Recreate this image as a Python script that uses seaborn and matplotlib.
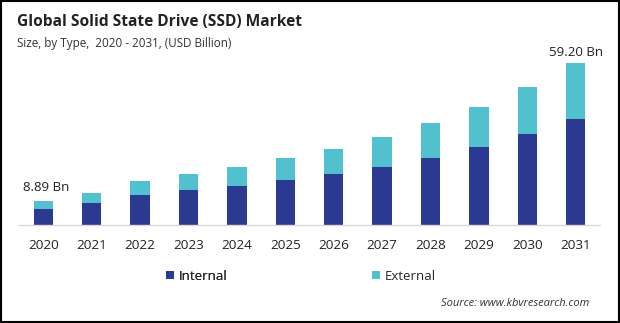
import matplotlib
matplotlib.use("Agg")
import matplotlib.pyplot as plt
import seaborn as sns
import pandas as pd
from matplotlib.patches import Patch, Rectangle

years = ["2020", "2021", "2022", "2023", "2024", "2025", "2026", "2027", "2028", "2029", "2030", "2031"]
internal = [5.90, 8.04, 10.96, 12.79, 14.25, 16.44, 18.64, 21.19, 24.48, 28.50, 33.25, 38.73]
external = [2.99, 3.65, 5.12, 5.85, 6.94, 8.04, 9.14, 10.96, 12.79, 14.62, 17.17, 20.47]
first_label = "8.89 Bn"
last_label = "59.20 Bn"

C_INT = "#2b3990"
C_EXT = "#52c1cf"

sns.set_theme(style="white")
plt.rcParams["font.family"] = ["Open Sans", "DejaVu Sans"]

df = pd.DataFrame({"year": years, "internal": internal, "external": external})
df["total"] = df["internal"] + df["external"]

fig = plt.figure(figsize=(6.2, 3.23), dpi=100)
ax = fig.add_axes([19 / 620, (323 - 225) / 323, 581 / 620, 185 / 323])

sns.barplot(data=df, x="year", y="total", color=C_EXT, width=0.4, ax=ax, saturation=1, linewidth=0)
sns.barplot(data=df, x="year", y="internal", color=C_INT, width=0.4, ax=ax, saturation=1, linewidth=0)

ax.set_xlim(-0.5, 11.5)
ax.set_ylim(0, 67.6)
ax.set_xlabel("")
ax.set_ylabel("")
ax.set_yticks([])
for s in ["top", "right", "left"]:
    ax.spines[s].set_visible(False)
ax.spines["bottom"].set_color("#d9d9d9")
ax.spines["bottom"].set_linewidth(1.0)
ax.tick_params(axis="x", length=0, pad=10, labelsize=9.7, labelcolor="#222222")

ax.text(0 - 0.42, df["total"].iloc[0] + 2.5, first_label, ha="left", va="bottom", fontsize=9.5, color="#222222")
ax.text(11, df["total"].iloc[-1] + 1.5, last_label, ha="center", va="bottom", fontsize=9.5, color="#222222")

fig.text(17 / 620, 1 - 22 / 323, "Global Solid State Drive (SSD) Market", fontsize=11.2, fontweight="bold",
         color="#222222", ha="left", va="center")
fig.text(17 / 620, 1 - 44 / 323, "Size, by Type,  2020 - 2031, (USD Billion)", fontsize=8.4, color="#333333",
         ha="left", va="center")

leg1 = fig.legend(handles=[Patch(facecolor=C_INT, edgecolor="none", label="Internal")],
                  loc="center left", bbox_to_anchor=(166 / 620, 1 - 276 / 323), frameon=False,
                  fontsize=9.5, handlelength=0.6, handleheight=0.6, handletextpad=0.35,
                  borderpad=0, borderaxespad=0)
fig.add_artist(leg1)
leg2 = fig.legend(handles=[Patch(facecolor=C_EXT, edgecolor="none", label="External")],
                  loc="center left", bbox_to_anchor=(372 / 620, 1 - 276 / 323), frameon=False,
                  fontsize=9.5, handlelength=0.6, handleheight=0.6, handletextpad=0.35,
                  borderpad=0, borderaxespad=0)

fig.text(589 / 620, 1 - 304 / 323, "Source: www.kbvresearch.com", fontsize=8, style="italic",
         color="#333333", ha="right", va="center")

fig.patches.append(Rectangle((0.002, 0.003), 0.996, 0.994, transform=fig.transFigure,
                             fill=False, edgecolor="black", linewidth=1.5))

fig.savefig("out.png", dpi=100)
